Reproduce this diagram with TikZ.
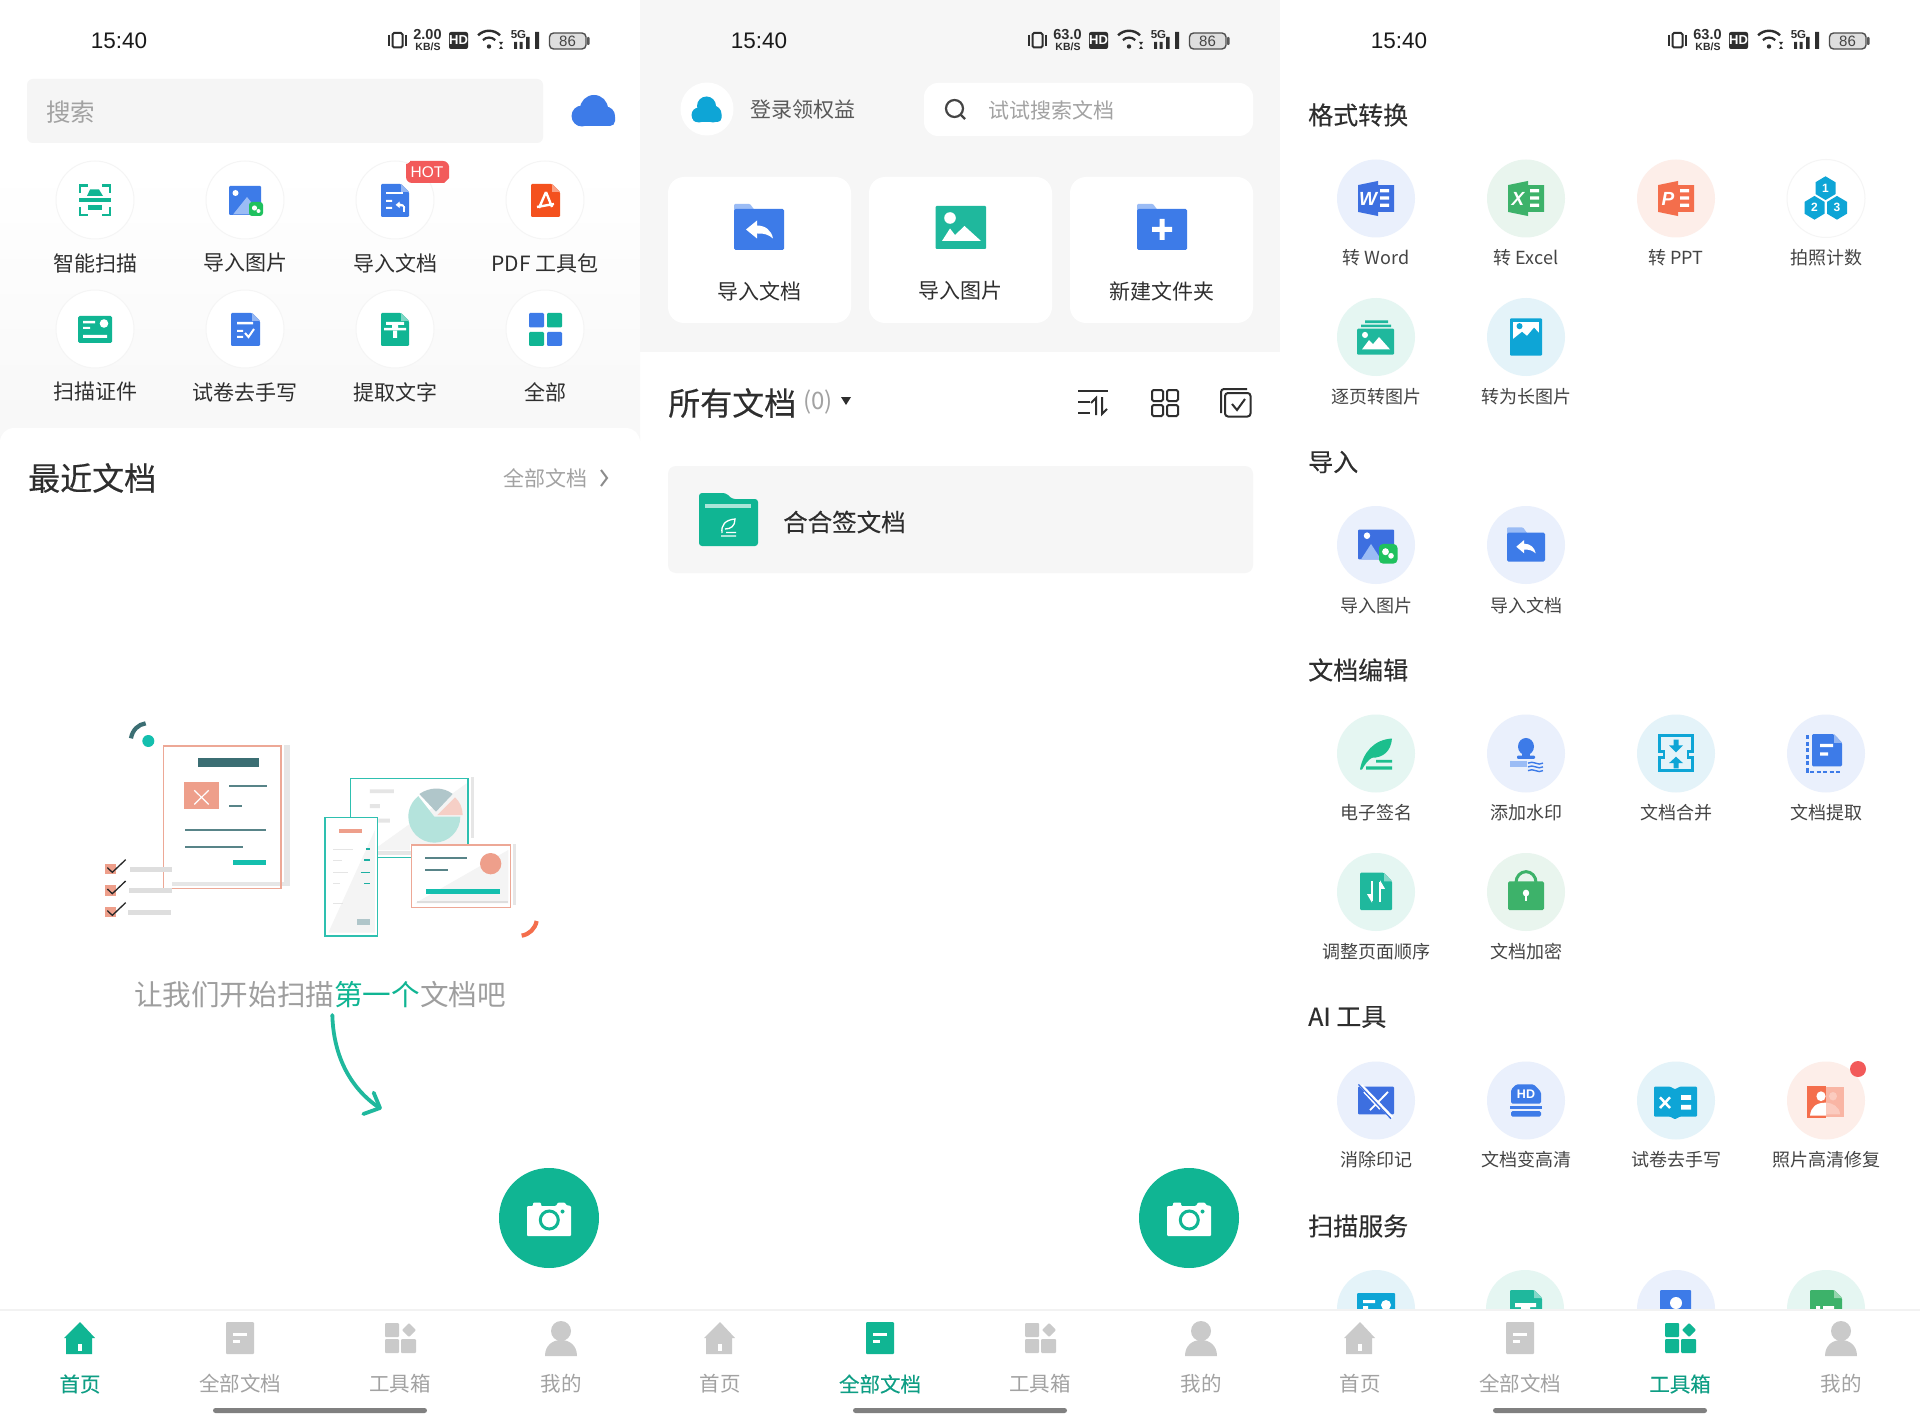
\documentclass[tikz,border=0pt]{standalone}
\usepackage{fontspec}
\setmainfont{Noto Sans CJK SC}
\newfontfamily\medf[FakeBold=0.35]{Noto Sans CJK SC}
\newfontfamily\semf[FakeBold=0.15]{Noto Sans CJK SC}
\newfontfamily\numf{Liberation Sans}
\newcommand\fsz[1]{\fontsize{#1}{#1}\selectfont}
\definecolor{tealg}{HTML}{10B593}
\definecolor{tealt}{HTML}{0E9E84}
\definecolor{teal2}{HTML}{1FB89D}
\definecolor{blue1}{HTML}{3D7BE8}
\definecolor{blue2}{HTML}{3D6FE0}
\definecolor{blue3}{HTML}{9BBCF5}
\definecolor{cyan1}{HTML}{0EA5D6}
\definecolor{green1}{HTML}{3DB26A}
\definecolor{wech}{HTML}{1FC15E}
\definecolor{oran}{HTML}{F46E4C}
\definecolor{pdfor}{HTML}{F4511E}
\definecolor{redd}{HTML}{F25A5A}
\definecolor{grayt}{HTML}{A2A2A2}
\definecolor{grayi}{HTML}{CACACA}
\definecolor{ink}{HTML}{2E2E2E}
\definecolor{ink2}{HTML}{444444}
\definecolor{panel}{HTML}{F6F6F6}
\definecolor{cBlue}{HTML}{EAF0FC}
\definecolor{cGreen}{HTML}{E9F5EE}
\definecolor{cPink}{HTML}{FDEEE9}
\definecolor{cTeal}{HTML}{E5F6F2}
\definecolor{cCyan}{HTML}{E4F3F9}
\definecolor{salm}{HTML}{EE9F8B}
\definecolor{salb}{HTML}{EDA896}
\definecolor{dteal}{HTML}{3B6E73}
\definecolor{lteal}{HTML}{14BFAE}
\definecolor{bteal}{HTML}{2EC0B0}
\definecolor{shad}{HTML}{E6E6E6}
\definecolor{pale}{HTML}{F4F4F4}
\definecolor{pieT}{HTML}{B4E3DC}
\definecolor{pieG}{HTML}{B0C6CA}
\definecolor{pieS}{HTML}{F6CFC6}
\definecolor{ph}{HTML}{F9B5A4}
\definecolor{ph2}{HTML}{FBCBBF}
\tikzset{
  lab/.style={inner sep=0pt,anchor=center,text=ink2,font=\fsz{18}},
  gridlab/.style={inner sep=0pt,anchor=center,text=ink,font=\fsz{21}},
  head/.style={inner sep=0pt,anchor=west,text=ink,font=\semf\fsz{25}},
  tabl/.style={inner sep=0pt,anchor=center,font=\fsz{20.5}},
}
\newcommand\cir[3]{\fill[#3] (#1,#2) circle (39);}
\newcommand\wcir[2]{\filldraw[fill=white,draw=black!4,line width=1] (#1,#2) circle (39);}
\newcommand\lab[3]{\node[lab] at (#1,#2) {#3};}
\newcommand\docic[5]{%
  \fill[#5,rounded corners=1.2] (#1,#2) -- (#3-8,#2) -- (#3,#2+8) -- (#3,#4) -- (#1,#4) -- cycle;
  \fill[#5!55!white] (#3-8,#2) -- (#3,#2+8) -- (#3-8,#2+8) -- cycle;}
\newcommand\folderic[6]{%
  \fill[#6,rounded corners=1] (#1,#2) -- (#1+16,#2) -- (#1+22,#2+8) -- (#1,#2+8) -- cycle;
  \fill[#5,rounded corners=1.5] (#1,#2+5) -- (#3,#2+5) -- (#3,#4) -- (#1,#4) -- cycle;}
\newcommand\retarrow[3]{\begin{scope}[shift={(#1,#2)},scale=#3]
  \fill[white] (-13.5,-0.5) -- (-2.5,-9.5) -- (-2.5,-4.5) .. controls (6,-4.5) and (12,0.5) .. (13.5,8.5) .. controls (9,4.5) and (4,3) .. (-2.5,3.5) -- (-2.5,8.5) -- cycle;
\end{scope}}
\newcommand\tabhome[1]{\begin{scope}[shift={(#1,0)}]
  \fill[\tabcol] (-16,1338) -- (0,1322) -- (15,1338) -- (12,1338) -- (12,1354) -- (-14,1354) -- (-14,1338) -- cycle;
  \fill[white] (-2,1344) rectangle (1.5,1351);\end{scope}}
\newcommand\tabdoc[1]{\begin{scope}[shift={(#1,0)}]
  \fill[\tabcol,rounded corners=1] (-14,1322) rectangle (14,1354);
  \fill[white] (-7,1333) rectangle (7,1336); \fill[white] (-7,1340) rectangle (0,1343);\end{scope}}
\newcommand\tabtool[1]{\begin{scope}[shift={(#1,0)}]
  \fill[\tabcol,rounded corners=1] (-15,1323) rectangle (-1,1337);
  \fill[\tabcol,rounded corners=1] (-15,1339) rectangle (-1,1353);
  \fill[\tabcol,rounded corners=1] (1,1339) rectangle (16,1353);
  \fill[\tabcol,rounded corners=1] (9,1323) -- (16,1330) -- (9,1337) -- (2,1330) -- cycle;\end{scope}}
\newcommand\tabme[1]{\begin{scope}[shift={(#1,0)}]
  \fill[\tabcol] (0,1331) circle (10);
  \fill[\tabcol] (-16,1356) .. controls (-16,1345) and (-8,1340) .. (0,1340) .. controls (8,1340) and (16,1345) .. (16,1356) -- cycle;\end{scope}}
\newcommand\statusbar[2]{\begin{scope}[shift={(#1,0)}]
  \node[inner sep=0pt,text=black!90] at (119,40.5) {\numf\fsz{22.5}15:40};
  \draw[ink,line width=2,rounded corners=1.5] (392.5,33) rectangle (402.5,47.5);
  \draw[ink,line width=1.3] (389,35) -- (389,46) (406,35) -- (406,46);
  \node[inner sep=0pt,text=ink] at (427.5,35) {\numf\bfseries\fsz{14.5}#2};
  \node[inner sep=0pt,text=ink] at (428,47) {\numf\bfseries\fsz{10.5}KB/S};
  \fill[ink,rounded corners=2] (449,32) rectangle (468,49);
  \node[inner sep=0pt,text=white] at (458.5,40.5) {\numf\bfseries\fsz{13}HD};
  \fill[ink] (489,46.5) circle (2.2);
  \draw[ink,line width=2.2] (482.9,40.1) arc (225:315:8.7);
  \draw[ink,line width=2.4] (478.1,35.3) arc (225:315:15.5);
  \fill[ink] (499,42) -- (503,42) -- (501,45) -- cycle;
  \fill[ink] (499,49) -- (503,49) -- (501,46) -- cycle;
  \node[inner sep=0pt,text=ink] at (518.5,35) {\numf\bfseries\fsz{11.5}5G};
  \fill[ink] (514,42) rectangle (517,49) (519.5,42) rectangle (522.5,49) (526,37) rectangle (529.5,49) (535,32) rectangle (539,49);
  \filldraw[fill=black!13,draw=ink!85,line width=1.4,rounded corners=4] (549.5,33) rectangle (586,49);
  \fill[ink!80,rounded corners=0.8] (587,37) rectangle (589.5,45);
  \node[inner sep=0pt,text=ink2] at (567.5,41) {\numf\fsz{15}86};
\end{scope}}
\newcommand\fab[1]{\begin{scope}[shift={(#1,0)}]
  \fill[tealg] (549,1218) circle (50);
  \fill[white,rounded corners=1] (527,1206) -- (533,1206) -- (533,1202.5) -- (541,1202.5) -- (541,1206) -- (556,1206) -- (558,1202.5) -- (565,1202.5) -- (566,1205) -- (571,1206) -- (571,1236) -- (527,1236) -- cycle;
  \filldraw[fill=white,draw=tealg,line width=3] (549.3,1220) circle (9);
  \fill[tealg] (562.5,1211.5) circle (2);
\end{scope}}
% row scope: new centre y, y scale, old centre y
\newenvironment{rowsc}[3]{\begin{scope}[shift={(0,#1)},yscale=#2,shift={(0,-#3)}]}{\end{scope}}
\begin{document}
\begin{tikzpicture}[x=1pt,y=-1pt]
\useasboundingbox (0,0) rectangle (1920,1423);
\fill[white] (0,0) rectangle (1920,1423);
% ===================== PANEL 1
\shade[top color=white,bottom color=black!3] (0,170) rectangle (640,440);
\fill[white,rounded corners=14] (0,428) rectangle (640,1340);
\statusbar{0}{2.00}
\fill[black!4,rounded corners=6] (27,79) rectangle (543,143);
\node[inner sep=0pt,anchor=west,text=grayt,font=\fsz{24.5}] at (46,112) {搜索};
\fill[blue1] (582,116) circle (10.5);
\fill[blue1] (594,109) circle (14);
\fill[blue1] (605.5,116) circle (9.5);
\fill[blue1,rounded corners=5] (575,112) rectangle (615,126);
\foreach \xx in {95,245,395,545}{\foreach \yy in {200,329}{\wcir{\xx}{\yy}}}
\node[gridlab] at (95,263) {智能扫描};
\node[gridlab] at (245,263) {导入图片};
\node[gridlab] at (395,263) {导入文档};
\node[gridlab] at (545,263) {PDF 工具包};
\node[gridlab] at (95,392) {扫描证件};
\node[gridlab] at (245,392) {试卷去手写};
\node[gridlab] at (395,392) {提取文字};
\node[gridlab] at (545,392) {全部};
\draw[tealg,line width=2.6] (88,185.5) -- (80,185.5) -- (80,193) (102,185.5) -- (110,185.5) -- (110,193) (80,207) -- (80,215) -- (88,215) (110,207) -- (110,215) -- (102,215);
\fill[tealg] (79,198.5) rectangle (111,202);
\fill[tealg] (87,196) -- (90,189.5) -- (99,189.5) -- (103,196) -- cycle;
\fill[tealg] (88,205) rectangle (102,210);
\fill[blue1,rounded corners=1] (229,186) rectangle (261,215);
\fill[blue3] (233,214.5) -- (247,197) -- (261,214.5) -- cycle;
\fill[white] (235.5,193) circle (3);
\fill[wech,rounded corners=3] (249,202) rectangle (263,216);
\fill[white] (254.5,208) circle (2.6) (258.5,211) circle (2);
\docic{381}{184}{409}{217}{blue1}
\fill[white] (386,192) rectangle (403,194.5);
\fill[white] (386,200) rectangle (392,202) (386,207) rectangle (392,209);
\retarrow{400.5}{205}{0.36}
\fill[white] (403,206) rectangle (405,212);
\fill[redd,rounded corners=6] (406,183) -- (406,170) .. controls (406,165) and (412,161) .. (416,161) -- (449,161) -- (449,172) .. controls (449,178) and (444,183) .. (438,183) -- cycle;
\node[inner sep=0pt,text=white] at (427,172) {\numf\fsz{15.5}HOT};
\docic{531}{184}{560}{217}{pdfor}
\draw[white,line width=2.4,line join=round] (546,192) -- (539,208) (546,192) -- (552,207) (537,207) -- (554,204);
\fill[tealg,rounded corners=1.5] (78,316) rectangle (112,343);
\fill[white] (83,321) rectangle (95,323.5) (83,327) rectangle (90,329) (83,335) rectangle (107,338);
\fill[white] (104,323.5) circle (4.3);
\docic{231}{313}{260}{346}{blue1}
\fill[white] (237,322) rectangle (253,324.5) (237,330) rectangle (243,332) (237,336) rectangle (243,338);
\draw[white,line width=2] (245,333) -- (248.5,337) -- (254,329);
\docic{381}{313}{409}{346}{tealg}
\fill[white] (386,322) rectangle (404,325) (384,328) rectangle (406,330.5) (392,325) rectangle (398,328) (393,331) rectangle (397,338);
\fill[blue1,rounded corners=1.2] (529,313) rectangle (544,327.5);
\fill[tealg,rounded corners=1.2] (547,313) rectangle (562,327.5);
\fill[tealg,rounded corners=1.2] (529,332) rectangle (544,346);
\fill[blue1,rounded corners=1.2] (547,332) rectangle (562,346);
\node[inner sep=0pt,anchor=west,text=ink,font=\medf\fsz{32}] at (28,478) {最近文档};
\node[inner sep=0pt,anchor=east,text=grayt,font=\fsz{21}] at (588,478) {全部文档};
\draw[black!45,line width=2] (601,470) -- (607,478) -- (601,486);
% illustration
\begin{scope}[shift={(80,690)},scale=1/3]
  \draw[dteal,line width=4.2] (153,145) .. controls (157,120) and (175,103) .. (197,100);
  \fill[lteal] (205,153) circle (18);
  \fill[shad] (612,165) rectangle (630,587);
  \fill[shad] (275,577) rectangle (630,587);
  \draw[salb,line width=1.3] (250,168) rectangle (603,596);
  \fill[dteal] (354,204) rectangle (538,230);
  \fill[salm] (311,277) rectangle (418,358);
  \draw[white,line width=1.2] (343,301) -- (386,343) (386,301) -- (343,343);
  \draw[dteal!85,line width=1.8] (447,288) -- (560,288) (447,349) -- (485,349) (315,421) -- (557,421) (315,470) -- (488,470);
  \fill[lteal] (459,510) rectangle (558,524);
  \foreach \yy/\gx in {522/149,586/147,651/145}{
    \fill[salm] (76,\yy) rectangle (108,\yy+31);
    \draw[black!85,line width=1.3] (82,\yy+11) -- (97,\yy+25) -- (137,\yy-13);
    \fill[black!13] (\gx,\yy+8) rectangle (\gx+128,\yy+23);
  }
  \fill[shad] (1172,262) rectangle (1182,443);
  \draw[bteal,line width=1.3] (812,382) -- (812,266) -- (1164,266) -- (1164,465);
  \fill[pale] (880,480) -- (1160,280) -- (1160,462) -- (990,462) -- (990,480) -- cycle;
  \fill[black!10] (870,298) rectangle (942,309) (870,342) rectangle (900,354) (895,386) rectangle (930,398);
  \fill[pieT] (1063,380) -- ++(0:78) arc (0:232:78) -- cycle;
  \fill[pieG] (1068,365) -- (1018,312) .. controls (1050,290) and (1090,290) .. (1118,312) -- cycle;
  \fill[pieS] (1072,375) -- (1125,322) .. controls (1140,335) and (1148,355) .. (1148,375) -- cycle;
  \fill[shad] (860,484) rectangle (995,494);
  \draw[bteal,line width=1.3] (893,502) -- (995,502);
  \filldraw[fill=white,draw=bteal,line width=1.3] (735,382) rectangle (893,738);
  \fill[pale] (745,728) -- (885,420) -- (885,728) -- cycle;
  \fill[salm] (776,417) rectangle (846,430);
  \draw[black!10,line width=0.8] (760,477) -- (820,477) (760,510) -- (785,510) (760,547) -- (805,547) (760,579) -- (780,579);
  \draw[black!10,line width=1.2] (760,641) -- (790,641);
  \draw[lteal!80!dteal,line width=1.3] (858,477) -- (870,477) (853,510) -- (870,510) (843,548) -- (870,548) (853,580) -- (870,580);
  \fill[pieG] (832,687) rectangle (870,704);
  \fill[shad] (1300,462) rectangle (1308,645);
  \filldraw[fill=white,draw=salb,line width=1.3] (995,465) rectangle (1291,652);
  \fill[pale] (1005,640) -- (1285,480) -- (1285,640) -- cycle;
  \fill[black!13] (1012,633) rectangle (1285,640);
  \draw[dteal!85,line width=1.6] (1036,504) -- (1160,504) (1036,540) -- (1105,540);
  \fill[salm] (1232,521) circle (32);
  \fill[lteal] (1037,598) rectangle (1261,612);
  \draw[oran,line width=4.2] (1325,737) .. controls (1348,733) and (1365,717) .. (1370,693);
  \draw[teal2,line width=3.8,line cap=round] (757,975) .. controls (760,1090) and (805,1190) .. (896,1252);
  \draw[teal2,line width=3.8,line cap=round,line join=round] (881,1208) -- (900,1254) -- (850,1272);
\end{scope}
\node[inner sep=0pt,anchor=center,font=\fsz{28.6}] at (320,995) {\textcolor{black!38}{让我们开始扫描}\textcolor{tealg}{第一个}\textcolor{black!38}{文档吧}};
% ===================== PANEL 2
\fill[panel] (640,0) rectangle (1280,352);
\statusbar{640}{63.0}
\fill[white] (707,109) circle (26.5);
\fill[cyan1] (699,115) circle (7.5);
\fill[cyan1] (706.5,106) circle (9.5);
\fill[cyan1] (713,114) circle (8.5);
\fill[cyan1,rounded corners=4] (692.5,111) rectangle (721.5,122);
\node[inner sep=0pt,text=black!65,font=\fsz{21}] at (803,110) {登录领权益};
\fill[white,rounded corners=14] (924,83) rectangle (1253,136);
\draw[ink2,line width=2.2] (954.5,108.5) circle (8.5);
\draw[ink2,line width=2.2] (960.5,114.5) -- (965,119);
\node[inner sep=0pt,anchor=west,text=grayt,font=\fsz{21}] at (988,110) {试试搜索文档};
\fill[white,rounded corners=16] (668,177) rectangle (851,323);
\fill[white,rounded corners=16] (869,177) rectangle (1052,323);
\fill[white,rounded corners=16] (1070,177) rectangle (1253,323);
\folderic{734}{204}{784}{250}{blue1}{blue3}
\retarrow{759.5}{230}{1}
\fill[teal2,rounded corners=1] (935.5,206) rectangle (986,249);
\fill[white] (950,218) circle (5.8);
\fill[white] (942,241) -- (950,228.5) -- (955,235) -- (964.5,226) -- (981,241) -- cycle;
\folderic{1137}{204}{1187}{250}{blue1}{blue3}
\fill[white] (1159.5,219) rectangle (1164.5,240) (1152,227) rectangle (1172,232);
\node[gridlab] at (759.5,291) {导入文档};
\node[gridlab] at (960.5,291) {导入图片};
\node[gridlab] at (1161.5,291) {新建文件夹};
\node[inner sep=0pt,anchor=west,text=ink,font=\semf\fsz{32}] at (668,403) {所有文档};
\node[inner sep=0pt,anchor=center,text=grayt,font=\fsz{24}] at (818,402) {(0)};
\fill[ink] (841,397) -- (851,397) -- (846,405) -- cycle;
\draw[ink,line width=2] (1078,391) -- (1108,391) (1078,402) -- (1090,402) (1078,413) -- (1090,413);
\draw[ink,line width=2] (1096,415) -- (1096,398) -- (1091,403) (1102,397) -- (1102,414) -- (1107,409);
\draw[ink,line width=2,rounded corners=1.5] (1152,390) rectangle (1163,401) (1167,390) rectangle (1178,401) (1152,405) rectangle (1163,416) (1167,405) rectangle (1178,416);
\draw[ink,line width=2,rounded corners=3] (1247,389) -- (1221,389) -- (1221,413);
\draw[ink,line width=2,rounded corners=3] (1225,393) rectangle (1250.5,416.5);
\draw[ink,line width=2] (1232,404) -- (1237,410) -- (1245,399);
\fill[panel,rounded corners=8] (668,466) rectangle (1253,573);
\fill[tealg,rounded corners=3] (699,493) -- (726,493) -- (732,499) -- (758,499) -- (758,546) -- (699,546) -- cycle;
\fill[white!65!tealg] (705,504) rectangle (751,508);
\draw[white,line width=1.3] (722,533) .. controls (721,525) and (725,520) .. (735,519) .. controls (735,526) and (731,529) .. (725,529) (721,536) -- (736,536) (726,532.5) -- (736,532.5);
\node[inner sep=0pt,anchor=west,text=ink,font=\semf\fsz{24.5}] at (783,522) {合合签文档};
% ===================== PANEL 3
\statusbar{1280}{63.0}
\node[head] at (1308,115) {格式转换};
\node[head] at (1308,462) {导入};
\node[head] at (1308,670) {文档编辑};
\node[head,font=\medf\fsz{25}] at (1308,1017) {AI 工具};
\node[head] at (1308,1226) {扫描服务};
\newcommand\offic[3]{%
  \fill[#1] (#2-18,178+4) -- (#2+2,178) -- (#2+2,182) -- (#2+18,182) -- (#2+18,208) -- (#2+2,208) -- (#2+2,212) -- (#2-18,208) -- cycle;
  \fill[white] (#2+4,186) rectangle (#2+13,189) (#2+4,193) rectangle (#2+13,196) (#2+4,200) rectangle (#2+13,203);
  \node[inner sep=0pt,text=white] at (#2-8,195) {\numf\bfseries\itshape\fsz{19}#3};}
\newcommand\hexa[3]{%
  \fill[cyan1] (#1,#2-11.5) -- (#1+10,#2-5.7) -- (#1+10,#2+5.7) -- (#1,#2+11.5) -- (#1-10,#2+5.7) -- (#1-10,#2-5.7) -- cycle;
  \node[inner sep=0pt,text=white] at (#1,#2) {\numf\bfseries\fsz{12}#3};}
% row A
\cir{1376}{198.5}{cBlue}\cir{1526}{198.5}{cGreen}\cir{1676}{198.5}{cPink}\wcir{1826}{198.5}
\begin{rowsc}{198.5}{1.033}{195}
\offic{blue2}{1376}{W}\offic{green1}{1526}{X}\offic{oran}{1676}{P}
\hexa{1825.5}{185}{1}\hexa{1814.5}{204}{2}\hexa{1837}{204}{3}
\end{rowsc}
\lab{1376}{258}{转 Word}\lab{1526}{258}{转 Excel}\lab{1676}{258}{转 PPT}\lab{1826}{258}{拍照计数}
% row B
\cir{1376}{337}{cTeal}\cir{1526}{337}{cCyan}
\begin{rowsc}{337}{1.033}{329}
\fill[teal2] (1365,313) rectangle (1388,315.5) (1361,317) rectangle (1391,319.5);
\fill[teal2,rounded corners=1] (1357,321) rectangle (1394,346);
\fill[white] (1365,327) circle (3);
\fill[white] (1362,341) -- (1369,332) -- (1373,336) -- (1379,329) -- (1390,341) -- cycle;
\fill[cyan1,rounded corners=1] (1510,311) rectangle (1542,347);
\fill[white] (1513,314) rectangle (1539,331);
\fill[cyan1] (1513,331) -- (1522,324) -- (1527,328) -- (1534,320) -- (1539,325) -- (1539,332) -- (1513,332) -- cycle;
\fill[cyan1] (1519.5,318.5) circle (3);
\end{rowsc}
\lab{1376}{396.5}{逐页转图片}\lab{1526}{396.5}{转为长图片}
% row C
\cir{1376}{545}{cBlue}\cir{1526}{545}{cBlue}
\begin{rowsc}{545}{1.033}{531}
\fill[blue2,rounded corners=1] (1358,516) rectangle (1394,545);
\fill[blue3] (1361,545) -- (1371,530) -- (1381,545) -- cycle;
\fill[white] (1367,522) circle (3.2);
\fill[wech,rounded corners=4] (1379,530) rectangle (1397.5,549);
\fill[white] (1385.5,537.5) circle (3.4) (1391,541.5) circle (2.8);
\folderic{1507}{514}{1545}{547}{blue1}{blue3}
\retarrow{1526}{533}{0.72}
\end{rowsc}
\lab{1376}{605.5}{导入图片}\lab{1526}{605.5}{导入文档}
% row D
\cir{1376}{753.5}{cTeal}\cir{1526}{753.5}{cBlue}\cir{1676}{753.5}{cCyan}\cir{1826}{753.5}{cBlue}
\begin{rowsc}{753.5}{1.071}{746}
\fill[teal2!90!green] (1360,761) .. controls (1363,745) and (1374,733) .. (1392,732) .. controls (1391,744) and (1383,750) .. (1372,750) .. controls (1368,752) and (1365,756) .. (1362,761) -- cycle;
\fill[teal2!90!green] (1376,752) rectangle (1392,754.5) (1366,758) rectangle (1392,761);
\fill[blue1] (1526,739.5) circle (8);
\fill[blue1] (1522,743) rectangle (1530,749);
\fill[blue1,rounded corners=1] (1517,748) rectangle (1535,751);
\fill[blue3] (1510,753) rectangle (1527,759);
\draw[blue1,line width=1.4] (1528,755) .. controls (1533,752) and (1538,758) .. (1543,755) (1528,758.5) .. controls (1533,755.5) and (1538,761.5) .. (1543,758.5) (1528,762) .. controls (1533,759) and (1538,765) .. (1543,762);
\draw[cyan1,line width=2.8] (1659.5,744) -- (1664,744) -- (1664,750) -- (1659.5,750) -- (1659.5,761.5) -- (1692.5,761.5) -- (1692.5,750) -- (1688,750) -- (1688,744) -- (1692.5,744) -- (1692.5,729.5) -- (1659.5,729.5) -- cycle;
\fill[cyan1] (1676,745) -- (1669,738.5) -- (1673.5,738.5) -- (1673.5,733) -- (1678.5,733) -- (1678.5,738.5) -- (1683,738.5) -- cycle;
\fill[cyan1] (1676,749) -- (1669,755) -- (1673.5,755) -- (1673.5,760) -- (1678.5,760) -- (1678.5,755) -- (1683,755) -- cycle;
\docic{1812}{728}{1842}{758}{blue1}
\fill[white] (1820,737) rectangle (1833,740) (1820,745) rectangle (1828,748);
\draw[blue1,line width=2.2,dash pattern=on 4 off 2.5] (1807.5,729) -- (1807.5,763) -- (1841,763);
\end{rowsc}
\lab{1376}{813}{电子签名}\lab{1526}{813}{添加水印}\lab{1676}{813}{文档合并}\lab{1826}{813}{文档提取}
% row E
\cir{1376}{892}{cTeal}\cir{1526}{892}{cGreen}
\begin{rowsc}{892}{1.071}{876}
\docic{1360}{858}{1392}{893}{teal2}
\draw[white,line width=2.2] (1372,866) -- (1372,884);
\fill[white] (1367,878) -- (1372,886) -- (1372,878) -- cycle;
\draw[white,line width=2.2] (1380,885) -- (1380,867);
\fill[white] (1380,865) -- (1385,873) -- (1380,873) -- cycle;
\draw[green1,line width=3] (1516,869) -- (1516,867) arc (180:360:10) -- (1536,869);
\fill[green1,rounded corners=1.5] (1508,866) rectangle (1544,893);
\fill[white] (1526,877) circle (3.2); \fill[white] (1524.7,878) rectangle (1527.3,884);
\end{rowsc}
\lab{1376}{952}{调整页面顺序}\lab{1526}{952}{文档加密}
% row F
\cir{1376}{1100.5}{cBlue}\cir{1526}{1100.5}{cBlue}\cir{1676}{1100.5}{cCyan}\cir{1826}{1100.5}{cPink}
\begin{rowsc}{1100.5}{1.071}{1070}
\fill[blue2,rounded corners=1] (1358,1057) rectangle (1394,1083);
\draw[white,line width=1.8] (1364,1062) -- (1380,1078) (1388,1062) -- (1370,1079);
\draw[white,line width=3.5] (1361,1056) -- (1392,1086);
\draw[blue2,line width=1.3] (1358.5,1055) -- (1391,1087);
\fill[blue1,rounded corners=1.5] (1511,1060) -- (1516,1055) -- (1534,1055) -- (1541,1062) -- (1541,1073) -- (1511,1073) -- cycle;
\node[inner sep=0pt,text=white] at (1526,1064.5) {\numf\bfseries\fsz{12.5}HD};
\fill[blue1] (1510,1075) rectangle (1542,1077.5);
\fill[blue1,rounded corners=1.5] (1511,1080) rectangle (1541,1085);
\fill[cyan1,rounded corners=1] (1654,1057) -- (1670,1057) -- (1675,1059.5) -- (1680,1057) -- (1697,1057) -- (1697,1085) -- (1680,1085) -- (1675,1087.5) -- (1670,1085) -- (1654,1085) -- cycle;
\draw[white,line width=2.5] (1660,1067) -- (1670,1077) (1670,1067) -- (1660,1077);
\fill[white] (1681,1065) rectangle (1691,1069.5) (1681,1074) rectangle (1691,1078.5);
\fill[oran] (1807,1056) rectangle (1826,1086);
\fill[ph] (1826,1057) rectangle (1844,1085);
\fill[white] (1821,1066) circle (4.6);
\fill[white] (1810,1084) .. controls (1811,1076) and (1816,1072) .. (1826,1072) -- (1826,1084) -- cycle;
\fill[ph2] (1833,1066) circle (4);
\fill[ph2] (1826,1072) .. controls (1832,1072) and (1840,1076) .. (1840,1083) -- (1826,1083) -- cycle;
\end{rowsc}
\fill[redd] (1858,1069) circle (8);
\lab{1376}{1160}{消除印记}\lab{1526}{1160}{文档变高清}\lab{1676}{1160}{试卷去手写}\lab{1826}{1160}{照片高清修复}
% row G
\cir{1376}{1309}{cCyan}\cir{1525}{1309}{cTeal}\cir{1676}{1309}{cBlue}\cir{1826}{1309}{cTeal}
\fill[cyan1,rounded corners=1] (1357,1293) rectangle (1395,1325);
\fill[white] (1363,1300) rectangle (1375,1303) (1363,1306) rectangle (1368,1309); \fill[white] (1386,1305) circle (5);
\docic{1510}{1290}{1542}{1325}{teal2}
\fill[white] (1515,1303) rectangle (1536,1307) (1521,1307) rectangle (1530,1312);
\fill[blue1,rounded corners=1] (1660,1290) rectangle (1691,1325);
\fill[white] (1676,1303) circle (6);
\docic{1810}{1290}{1842}{1325}{green1}
\fill[white] (1816,1306) rectangle (1820,1309) (1823,1306) rectangle (1834,1309);
% ===================== TAB BARS
\fill[white] (0,1310) rectangle (1920,1423);
\fill[black!5] (0,1309) rectangle (1920,1311);
\fab{0}\fab{640}
\def\tabcol{tealg}\tabhome{80}
\def\tabcol{grayi}\tabdoc{240}\tabtool{400}\tabme{561}
\def\tabcol{grayi}\tabhome{720}\tabtool{1040}\tabme{1201}
\def\tabcol{tealg}\tabdoc{880}
\def\tabcol{grayi}\tabhome{1360}\tabdoc{1520}\tabme{1841}
\def\tabcol{tealg}\tabtool{1680}
\foreach \ox/\ca/\cb/\cc in {0/tealt/grayt/grayt,640/grayt/tealt/grayt,1280/grayt/grayt/tealt}{
  \begin{scope}[shift={(\ox,0)}]
  \node[tabl,text=\ca] at (80,1384) {\ifnum\ox=0 \semf\fi 首页};
  \node[tabl,text=\cb] at (240,1384) {\ifnum\ox=640 \semf\fi 全部文档};
  \node[tabl,text=\cc] at (400,1384) {\ifnum\ox=1280 \semf\fi 工具箱};
  \node[tabl,text=grayt] at (561,1384) {我的};
  \fill[black!50,rounded corners=2.5] (213,1408) rectangle (427,1413);
  \end{scope}
}
\end{tikzpicture}
\end{document}
